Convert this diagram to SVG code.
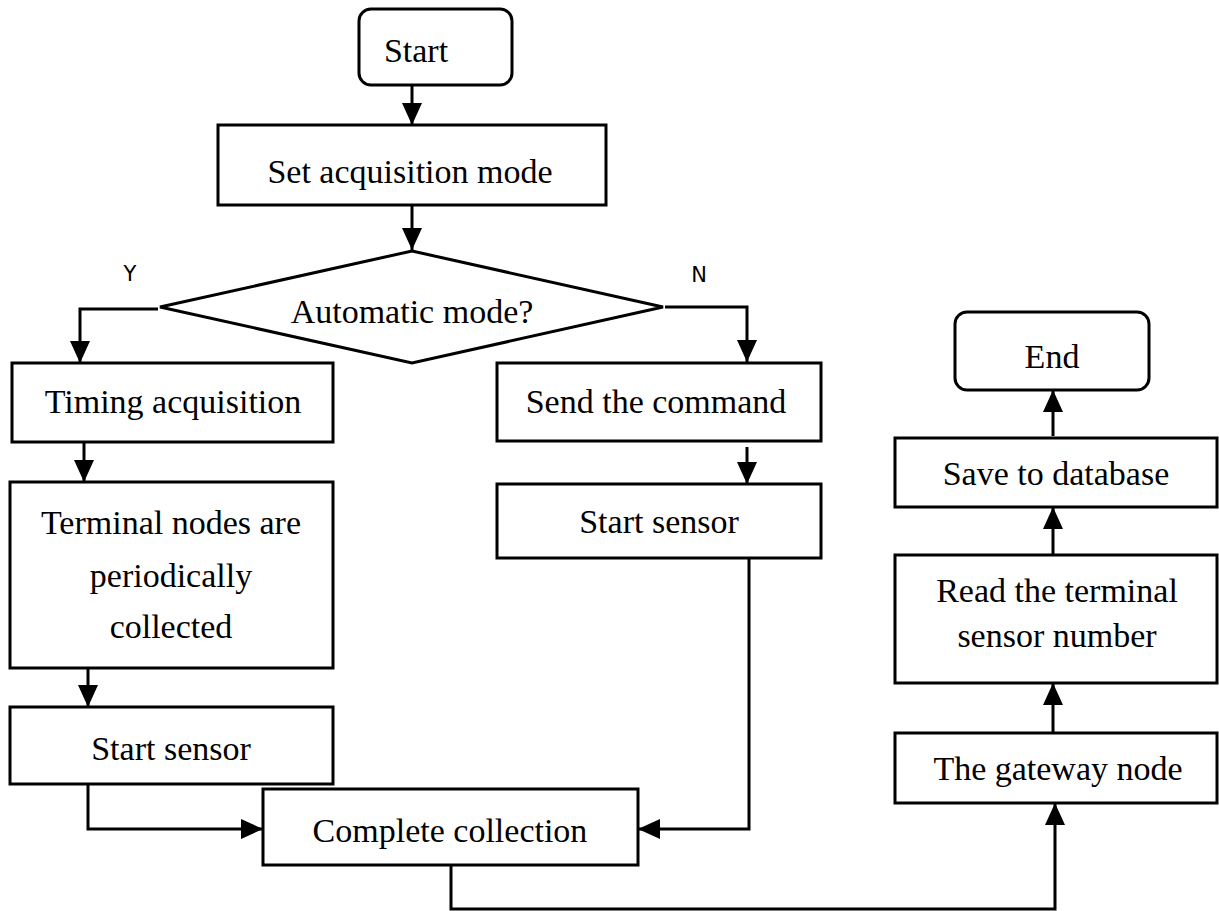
<svg xmlns="http://www.w3.org/2000/svg" width="1219" height="911" viewBox="0 0 1219 911">
<style>
.box{fill:#fff;stroke:#000;stroke-width:3}
.t{font-family:"Liberation Serif","Times New Roman",serif;font-size:34px;fill:#000;text-anchor:middle}
.c{fill:none;stroke:#000;stroke-width:3;marker-end:url(#ah)}
</style>
<defs>
<marker id="ah" markerUnits="userSpaceOnUse" markerWidth="22" markerHeight="20" refX="22" refY="10" orient="auto">
<path d="M0,0 L22,10 L0,20 z" fill="#000"/>
</marker>
</defs>
<rect width="1219" height="911" fill="#fff"/>
<g id="connectors">
<path class="c" d="M412 85 L412 125"/>
<path class="c" d="M412 205 L412 250"/>
<path class="c" d="M158 309 L80 309 L80 363"/>
<path class="c" d="M665 307 L747 307 L747 362"/>
<path class="c" d="M84 442 L84 482"/>
<path class="c" d="M88 668 L88 707"/>
<path class="c" d="M747 447 L747 484"/>
<path class="c" d="M88 784 L88 829 L263 829"/>
<path class="c" d="M749 558 L749 829 L638 829"/>
<path class="c" d="M451 865 L451 909 L1055 909 L1055 803"/>
<path class="c" d="M1053 733 L1053 683"/>
<path class="c" d="M1053 555 L1053 507"/>
<path class="c" d="M1053 436 L1053 390"/>
</g>
<g id="start"><rect class="box" x="359" y="9" width="153" height="76" rx="12"/><text class="t" x="416" y="62">Start</text></g>
<g id="set-mode"><rect class="box" x="218" y="125" width="388" height="80"/><text class="t" x="410" y="183">Set acquisition mode</text></g>
<g id="decision"><polygon class="box" points="412,251 663,307 412,363 160,307"/><text class="t" x="412" y="323">Automatic mode?</text></g>
<g id="label-y"><text x="130" y="281" font-family="'DejaVu Sans', sans-serif" font-size="21" text-anchor="middle" fill="#000">Y</text></g>
<g id="label-n"><text x="699" y="282" font-family="'DejaVu Sans', sans-serif" font-size="21" text-anchor="middle" fill="#000">N</text></g>
<g id="timing"><rect class="box" x="12" y="363" width="321" height="79"/><text class="t" x="173" y="413">Timing acquisition</text></g>
<g id="terminal"><rect class="box" x="10" y="482" width="323" height="186"/><text class="t" x="171" y="534">Terminal nodes are</text><text class="t" x="171" y="587">periodically</text><text class="t" x="171" y="638">collected</text></g>
<g id="start-sensor-left"><rect class="box" x="10" y="707" width="323" height="77"/><text class="t" x="171" y="760">Start sensor</text></g>
<g id="send-command"><rect class="box" x="497" y="363" width="324" height="78"/><text class="t" x="656" y="413">Send the command</text></g>
<g id="start-sensor-right"><rect class="box" x="497" y="484" width="324" height="74"/><text class="t" x="659" y="533">Start sensor</text></g>
<g id="complete"><rect class="box" x="263" y="789" width="375" height="76"/><text class="t" x="450" y="842">Complete collection</text></g>
<g id="gateway"><rect class="box" x="895" y="733" width="322" height="70"/><text class="t" x="1058" y="780">The gateway node</text></g>
<g id="read"><rect class="box" x="895" y="555" width="322" height="128"/><text class="t" x="1057" y="602">Read the terminal</text><text class="t" x="1057" y="647">sensor number</text></g>
<g id="save"><rect class="box" x="895" y="438" width="322" height="69"/><text class="t" x="1056" y="485">Save to database</text></g>
<g id="end"><rect class="box" x="955" y="312" width="194" height="78" rx="12"/><text class="t" x="1052" y="368">End</text></g>
</svg>
